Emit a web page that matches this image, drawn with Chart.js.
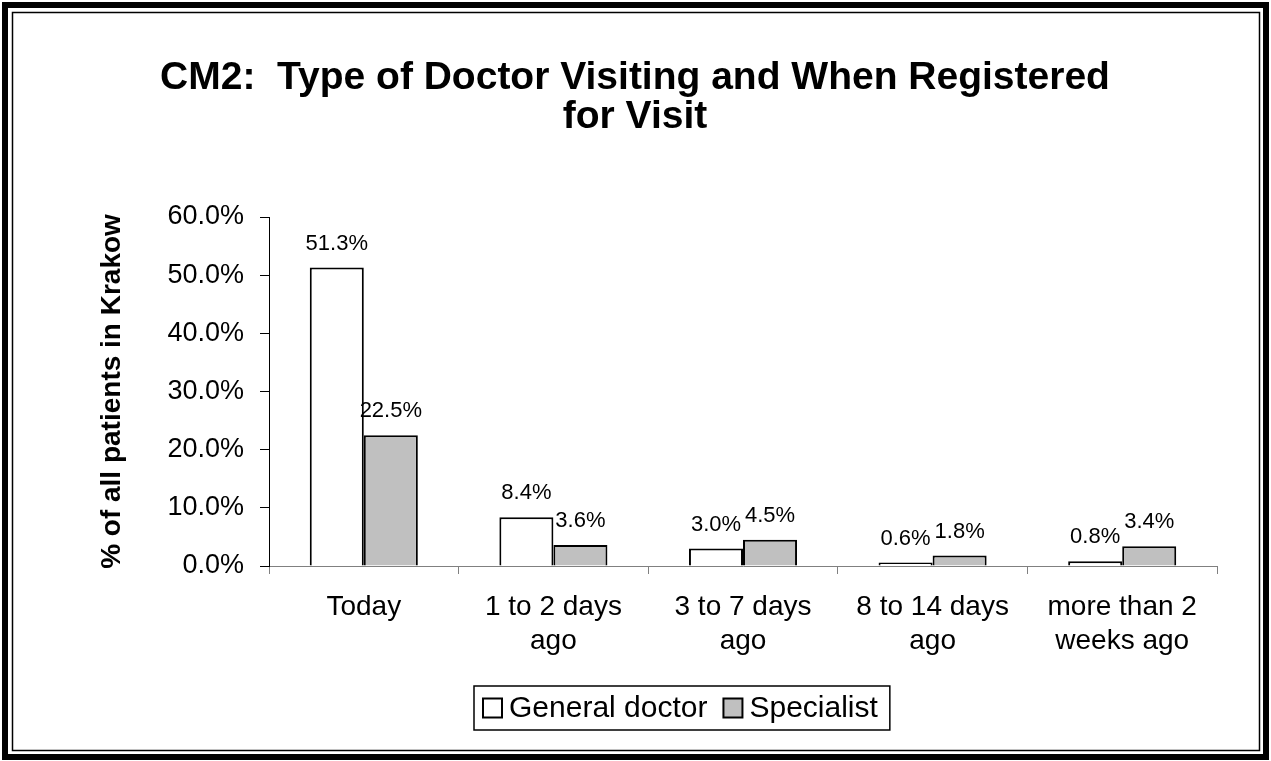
<!DOCTYPE html>
<html lang="en">
<head>
    <meta charset="UTF-8">
    <title>CM2: Type of Doctor Visiting and When Registered for Visit</title>
    <script src="https://cdn.jsdelivr.net/npm/chart.js@4/dist/chart.umd.min.js"></script>
    <style>
        body { margin: 0; background: #fff; }
        #wrap { width: 1271px; height: 761px; }
    </style>
</head>
<body>
    <div id="wrap">
        <canvas id="cm2Chart" width="1271" height="761"></canvas>
    </div>

    <script>
        var categories = ['Today', ['1 to 2 days', 'ago'], ['3 to 7 days', 'ago'], ['8 to 14 days', 'ago'], ['more than 2', 'weeks ago']];
        var generalDoctor = [51.3, 8.4, 3.0, 0.6, 0.8];
        var specialist = [22.5, 3.6, 4.5, 1.8, 3.4];
        var seriesNames = ['General doctor', 'Specialist'];

        var FONT = "'Liberation Sans', Arial, sans-serif";

        // double frame round the whole picture
        var framePlugin = {
            id: 'frame',
            afterDraw: function(chart) {
                var ctx = chart.ctx;
                ctx.save();
                ctx.strokeStyle = '#000';
                ctx.lineWidth = 6;
                ctx.strokeRect(5, 5, 1261, 752);
                ctx.lineWidth = 1.5;
                ctx.strokeRect(12.5, 12.5, 1247, 738);
                ctx.restore();
            }
        };

        // value labels above every bar
        var valueLabels = {
            id: 'valueLabels',
            afterDatasetsDraw: function(chart) {
                var ctx = chart.ctx;
                ctx.save();
                ctx.font = '22px ' + FONT;
                ctx.fillStyle = '#000';
                ctx.textAlign = 'center';
                ctx.textBaseline = 'middle';
                chart.data.datasets.forEach(function(ds, i) {
                    chart.getDatasetMeta(i).data.forEach(function(bar, j) {
                        ctx.fillText(ds.data[j].toFixed(1) + '%', bar.x, bar.y - 24);
                    });
                });
                ctx.restore();
            }
        };

        // boxed legend under the axis, Excel style
        var boxLegend = {
            id: 'boxLegend',
            afterDraw: function(chart) {
                var ctx = chart.ctx;
                var left = 474, top = 686, height = 44;
                var mid = top + height / 2;
                ctx.save();
                ctx.font = '30px ' + FONT;
                ctx.textBaseline = 'middle';
                var x = left + 9;
                chart.data.datasets.forEach(function(ds, i) {
                    if (i > 0) x += 16;
                    ctx.fillStyle = ds.backgroundColor;
                    ctx.fillRect(x, mid - 9.5, 19, 19);
                    ctx.strokeStyle = '#000';
                    ctx.lineWidth = 2;
                    ctx.strokeRect(x, mid - 9.5, 19, 19);
                    x += 19 + 7;
                    ctx.fillStyle = '#000';
                    ctx.fillText(ds.label, x, mid + 1);
                    x += ctx.measureText(ds.label).width;
                });
                ctx.strokeStyle = '#000';
                ctx.lineWidth = 1.5;
                ctx.strokeRect(left, top, x + 12 - left, height);
                ctx.restore();
            }
        };

        new Chart(document.getElementById('cm2Chart'), {
            type: 'bar',
            data: {
                labels: categories,
                datasets: [{
                    label: seriesNames[0],
                    data: generalDoctor,
                    backgroundColor: '#ffffff',
                    borderColor: '#000',
                    borderWidth: 2
                }, {
                    label: seriesNames[1],
                    data: specialist,
                    backgroundColor: '#c0c0c0',
                    borderColor: '#000',
                    borderWidth: 2
                }]
            },
            options: {
                responsive: false,
                animation: false,
                devicePixelRatio: 1,
                categoryPercentage: 0.57,
                barPercentage: 1.0,
                layout: { padding: { left: 53, right: 54, top: 0, bottom: 85 } },
                plugins: {
                    title: {
                        display: true,
                        text: ['CM2:  Type of Doctor Visiting and When Registered', 'for Visit'],
                        color: '#000',
                        font: { family: FONT, size: 39, weight: 'bold', lineHeight: 1.0 },
                        padding: { top: 59, bottom: 80 }
                    },
                    legend: { display: false },
                    tooltip: { enabled: false }
                },
                scales: {
                    x: {
                        grid: { drawOnChartArea: false, color: '#808080', tickLength: 8, offset: true },
                        border: { color: '#808080', width: 1 },
                        ticks: {
                            color: '#000',
                            padding: 16,
                            maxRotation: 0,
                            font: { family: FONT, size: 28, lineHeight: 1.22 }
                        },
                        afterFit: function(scale) { scale.height = 110; }
                    },
                    y: {
                        min: 0,
                        max: 60,
                        grid: { drawOnChartArea: false, color: '#000', tickLength: 9 },
                        border: { color: '#000', width: 1 },
                        ticks: {
                            stepSize: 10,
                            color: '#000',
                            padding: 16,
                            font: { family: FONT, size: 27 },
                            callback: function(v) { return v.toFixed(1) + '%'; }
                        },
                        title: {
                            display: true,
                            text: '% of all patients in Krakow',
                            color: '#000',
                            font: { family: FONT, size: 28, weight: 'bold' },
                            padding: { top: 42, bottom: 0 }
                        },
                        afterFit: function(scale) { scale.width = 216; }
                    }
                }
            },
            plugins: [framePlugin, valueLabels, boxLegend]
        });
    </script>
</body>
</html>
